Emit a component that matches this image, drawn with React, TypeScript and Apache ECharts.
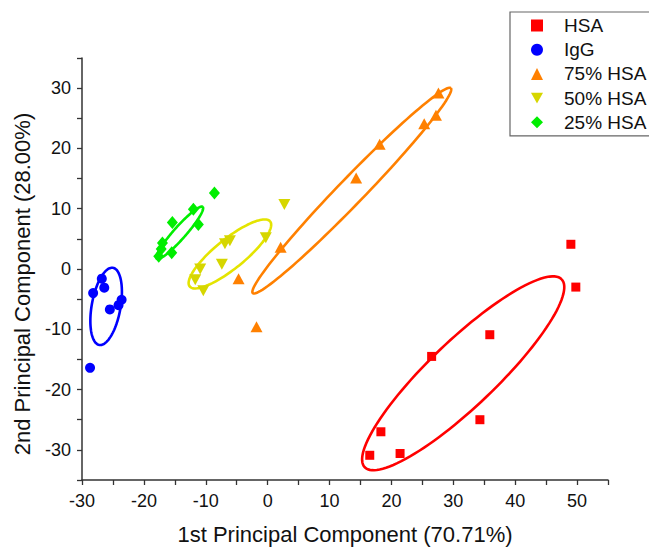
import React, { useEffect, useRef } from "react";
import * as echarts from "echarts";

const SERIES_NAMES = ["HSA", "IgG", "75% HSA", "50% HSA", "25% HSA"];

const HSA_X = [49.0, 49.8, 35.9, 26.5, 34.3, 18.3, 21.4, 16.5];
const HSA_Y = [4.1, -3.0, -10.9, -14.5, -25.0, -27.0, -30.6, -30.9];

const IGG_X = [-26.8, -26.4, -28.2, -23.6, -24.1, -25.5, -28.7];
const IGG_Y = [-1.6, -3.1, -4.0, -5.1, -6.0, -6.7, -16.4];

const HSA75_X = [27.6, 27.2, 25.3, 18.1, 14.3, 2.1, -4.7, -1.8];
const HSA75_Y = [29.2, 25.5, 24.1, 20.7, 15.1, 3.6, -1.6, -9.6];

const HSA50_X = [2.7, -0.3, -6.1, -6.9, -7.4, -10.9, -11.7, -10.4];
const HSA50_Y = [10.7, 5.2, 4.7, 4.2, 0.8, 0.0, -1.8, -3.6];

const HSA25_X = [-8.6, -12.0, -11.2, -15.4, -17.0, -17.2, -15.5, -17.6];
const HSA25_Y = [12.6, 9.9, 7.4, 7.7, 4.3, 3.3, 2.7, 2.1];

// Confidence ellipses: [centerX, centerY, majorX, majorY, minorX, minorY]
const ELLIPSE_HSA = [31.6, -17.3, 15.9, 15.6, 3.75, -3.9];
const ELLIPSE_IGG = [-26.1, -6.2, 1.1, 6.4, 2.3, -0.4];
const ELLIPSE_75 = [13.6, 13.0, 16.0, 17.0, 1.5, -1.5];
const ELLIPSE_50 = [-6.1, 2.5, 6.5, 5.4, 1.5, -1.9];
const ELLIPSE_25 = [-14.2, 6.0, 3.7, 4.3, 0.75, -0.65];

const X_LABELS = [-30, -20, -10, 0, 10, 20, 30, 40, 50];
const X_TICKS = [-30, -25, -20, -15, -10, -5, 0, 5, 10, 15, 20, 25, 30, 35, 40, 45, 50, 55];
const Y_LABELS = [-30, -20, -10, 0, 10, 20, 30];
const Y_TICKS = [-35, -30, -25, -20, -15, -10, -5, 0, 5, 10, 15, 20, 25, 30, 35];

const MARKER_COLORS = ["#ff0000", "#0000ff", "#ff8000", "#d6d600", "#00ee00"];
const ELLIPSE_COLORS = ["#ff0000", "#0000ff", "#ff8000", "#e4e400", "#00ee00"];
const SYMBOLS = ["rect", "circle", "triangle", "path://M0,0L10,0L5,9Z", "diamond"];
const SYMBOL_SIZES = [9, 10, [12, 11], [12, 11], [11, 13]];

const FONT = "Liberation Sans, Arial, sans-serif";

function zip(xs: number[], ys: number[]) {
  return xs.map((x, i) => [x, ys[i]]);
}

export default function App() {
  const ref = useRef<HTMLDivElement>(null);
  useEffect(() => {
    if (!ref.current) return;
    const chart = echarts.init(ref.current, null, { renderer: "svg" });
    const pointSets = [
      zip(HSA_X, HSA_Y),
      zip(IGG_X, IGG_Y),
      zip(HSA75_X, HSA75_Y),
      zip(HSA50_X, HSA50_Y),
      zip(HSA25_X, HSA25_Y),
    ];
    const ellipses = [ELLIPSE_HSA, ELLIPSE_IGG, ELLIPSE_75, ELLIPSE_50, ELLIPSE_25];

    const ellipseSeries = ellipses.map((e, k) => ({
      type: "custom",
      name: "ellipse-" + k,
      silent: true,
      z: 1,
      encode: { x: 0, y: 1 },
      data: [e],
      renderItem: (params: any, api: any) => {
        const cx = api.value(0), cy = api.value(1);
        const ux = api.value(2), uy = api.value(3);
        const vx = api.value(4), vy = api.value(5);
        const pts: number[][] = [];
        const n = 120;
        for (let i = 0; i <= n; i++) {
          const t = (i / n) * Math.PI * 2;
          pts.push(
            api.coord([
              cx + ux * Math.cos(t) + vx * Math.sin(t),
              cy + uy * Math.cos(t) + vy * Math.sin(t),
            ])
          );
        }
        return {
          type: "polyline",
          shape: { points: pts },
          style: { fill: "none", stroke: ELLIPSE_COLORS[k], lineWidth: 2.6 },
        };
      },
    }));

    const scatterSeries = pointSets.map((d, k) => ({
      type: "scatter",
      name: SERIES_NAMES[k],
      z: 3,
      symbol: SYMBOLS[k],
      symbolSize: SYMBOL_SIZES[k],
      itemStyle: { color: MARKER_COLORS[k], opacity: 1 },
      data: d,
    }));

    chart.setOption({
      animation: false,
      backgroundColor: "#ffffff",
      textStyle: { fontFamily: FONT },
      grid: { left: 82, right: 41, top: 58, bottom: 67, containLabel: false },
      legend: {
        data: SERIES_NAMES.map((name) => ({ name })),
        orient: "vertical",
        left: 510,
        top: 12,
        padding: [4, 60, 4, 21],
        itemWidth: 12,
        itemHeight: 12,
        itemGap: 5.2,
        borderColor: "#666666",
        borderWidth: 1.2,
        backgroundColor: "#ffffff",
        textStyle: {
          fontSize: 19,
          color: "#111111",
          fontFamily: FONT,
          lineHeight: 19,
          padding: [0, 0, 0, 16],
        },
      },
      xAxis: {
        type: "value",
        min: -30,
        max: 55,
        name: "1st Principal Component (70.71%)",
        nameLocation: "middle",
        nameGap: 43,
        nameTextStyle: { fontSize: 22, color: "#111111", fontFamily: FONT },
        splitLine: { show: false },
        axisLine: { show: true, onZero: false, lineStyle: { color: "#333333", width: 1.5 } },
        axisTick: { show: true, inside: false, length: 5, customValues: X_TICKS, lineStyle: { color: "#333333", width: 1.3 } },
        axisLabel: { customValues: X_LABELS, fontSize: 18, color: "#111111", margin: 12, fontFamily: FONT },
      },
      yAxis: {
        type: "value",
        min: -35,
        max: 35,
        name: "2nd Principal Component (28.00%)",
        nameLocation: "middle",
        nameGap: 49,
        nameTextStyle: { fontSize: 22, color: "#111111", fontFamily: FONT, padding: [0, 30, 0, 0] },
        splitLine: { show: false },
        axisLine: { show: true, onZero: false, lineStyle: { color: "#333333", width: 1.5 } },
        axisTick: { show: true, inside: false, length: 5, customValues: Y_TICKS, lineStyle: { color: "#333333", width: 1.3 } },
        axisLabel: { customValues: Y_LABELS, fontSize: 18, color: "#111111", margin: 11, fontFamily: FONT },
      },
      series: [...ellipseSeries, ...scatterSeries],
    });
    return () => chart.dispose();
  }, []);
  return (
    <div
      ref={ref}
      style={{ position: "fixed", left: 0, top: 0, width: 649, height: 550, background: "#fff" }}
    />
  );
}
